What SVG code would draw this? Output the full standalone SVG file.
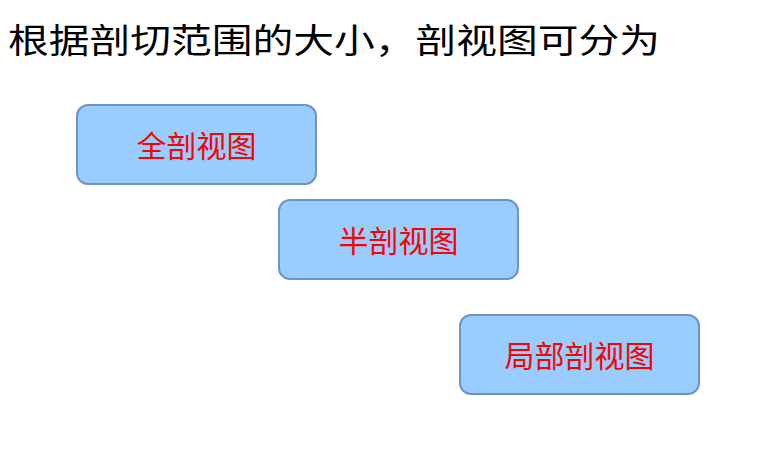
<svg xmlns="http://www.w3.org/2000/svg" width="761" height="451" viewBox="0 0 761 451">
<style>
.box{fill:#99CCFF;stroke:#6F93C3;stroke-width:2}
.lbl{font-family:"Noto Sans CJK SC","Noto Sans CJK JP",sans-serif;font-size:30px;fill:#FF0000;text-anchor:middle;dominant-baseline:central}
.title{font-family:"Noto Sans CJK SC","Noto Sans CJK JP",sans-serif;font-size:34px;fill:#000}
</style>
<rect width="761" height="451" fill="#fff"/>
<text class="title" x="8" y="53" textLength="652" lengthAdjust="spacingAndGlyphs">根据剖切范围的大小，剖视图可分为</text>
<g id="connectors"></g>
<g id="node1">
<rect class="box" x="77" y="105" width="239" height="79" rx="11"/>
<text class="lbl" x="196.5" y="144">全剖视图</text>
</g>
<g id="node2">
<rect class="box" x="279" y="200" width="239" height="79" rx="11"/>
<text class="lbl" x="398.5" y="239">半剖视图</text>
</g>
<g id="node3">
<rect class="box" x="460" y="315" width="239" height="79" rx="11"/>
<text class="lbl" x="579.5" y="354">局部剖视图</text>
</g>
</svg>
